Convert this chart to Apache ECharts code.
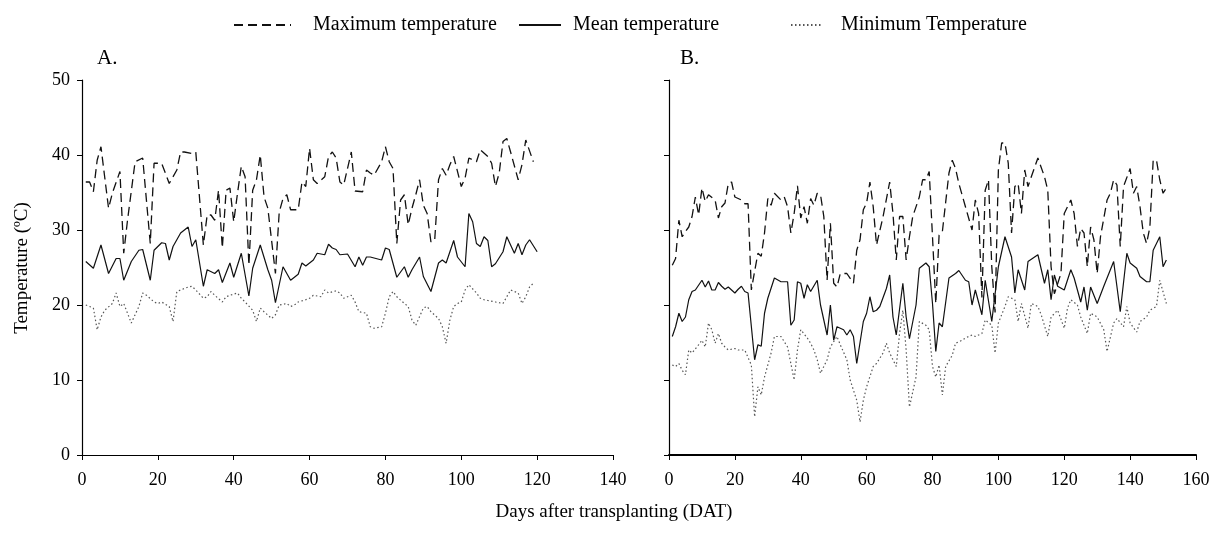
<!DOCTYPE html>
<html>
<head>
<meta charset="utf-8">
<script src="https://cdn.jsdelivr.net/npm/echarts@6/dist/echarts.min.js"></script>
<style>
html,body{margin:0;padding:0;background:#fff;}
#chart{width:1213px;height:540px;}
</style>
</head>
<body>
<div id="chart"></div>
<script>
// ---- Data: [day after transplanting, temperature °C] ----
const maxA = [[1,36.4],[2,36.4],[3,35.1],[4,39.3],[5,41.1],[6,37],[7,32.9],[8,34.9],[10,37.8],[11,26.9],[12,31.3],[14,39.1],[16,39.6],[18,28.2],[19,38.9],[21,38.9],[23,36.2],[25,38],[26,40.4],[27,40.4],[29,40.2],[30,40.4],[32,28],[33,32],[34,32],[35,31.3],[36,35.3],[37,27.6],[38,35.3],[39,35.6],[40,31.1],[41,34.9],[42,38.5],[43,37.1],[44,25.3],[45,35.3],[46,36.7],[47,40],[48,34.4],[49,32.9],[51,24.2],[52,32.4],[53,34.2],[54,34.7],[55,32.7],[57,32.7],[58,36.4],[59,35.8],[60,40.9],[61,36.7],[62,36.2],[64,37.1],[65,39.8],[66,40.4],[67,39.6],[68,36.4],[69,36],[71,40.4],[72,35.2],[74,35.1],[75,38],[76,37.6],[77,37.3],[79,39.1],[80,41.1],[81,39.1],[82,38.2],[83,28.2],[84,34],[85,34.7],[86,30.7],[87,32.9],[88,34.7],[89,36.7],[90,33.3],[91,32.2],[92,28.4],[93,28.7],[94,36.7],[95,38.2],[96,37.3],[97,38.7],[98,39.8],[100,35.8],[101,36.9],[102,39.6],[104,39.1],[105,40.7],[107,39.8],[108,38.9],[109,35.8],[110,37.6],[111,41.8],[112,42.2],[113,40.4],[115,36.7],[116,38.7],[117,42],[119,39.1]];
const meanA = [[1,25.8],[3,24.9],[5,28],[7,24.2],[9,26.2],[10,26.2],[11,23.3],[13,25.8],[15,27.3],[16,27.4],[18,23.3],[19,27.3],[21,28.3],[22,28.2],[23,26],[24,27.8],[26,29.6],[28,30.4],[29,27.8],[30,28.7],[32,22.5],[33,24.7],[35,24.2],[36,24.7],[37,23],[39,25.6],[40,23.7],[42,26.9],[44,21.2],[45,24.9],[47,28],[49,24.7],[50,23.3],[51,20.3],[53,25.1],[55,23.3],[57,24.1],[58,25.6],[59,25.2],[61,26],[62,26.9],[64,26.7],[65,28.1],[66,27.6],[67,27.4],[68,26.7],[70,26.8],[72,25.1],[73,26.4],[74,25.3],[75,26.4],[76,26.4],[79,26],[80,27.6],[81,27.4],[83,23.7],[85,25.1],[86,23.7],[87,24.7],[89,26.4],[90,23.8],[92,21.8],[94,25.6],[95,26],[96,25.6],[98,28.6],[99,26.4],[101,25.1],[102,32.2],[103,31.1],[104,28.2],[105,27.8],[106,29.1],[107,28.6],[108,25.1],[109,25.5],[111,27.1],[112,29.1],[114,26.9],[115,28.2],[116,26.7],[117,28],[118,28.7],[120,27.1]];
const minA = [[1,20],[3,19.6],[4,16.7],[5,18.4],[6,19.3],[8,20.2],[9,21.6],[10,19.8],[11,20.2],[12,18.9],[13,17.6],[15,19.8],[16,21.6],[17,21.3],[19,20.4],[20,20.2],[21,20.4],[23,19.8],[24,17.8],[25,21.8],[26,22],[28,22.4],[29,22.5],[30,22],[32,20.9],[33,21.1],[34,21.8],[35,21.3],[37,20.4],[38,21.1],[39,21.3],[41,21.6],[42,20.9],[43,20.4],[45,19.3],[46,17.8],[47,19.6],[48,19.1],[50,18.2],[51,18.7],[52,20],[54,20.2],[55,19.8],[56,20],[57,20.4],[59,20.7],[60,20.9],[61,21.3],[63,21.1],[64,22],[65,21.6],[67,21.9],[68,21.6],[69,20.9],[71,21.3],[72,20.4],[73,19.1],[75,18.9],[76,17.1],[77,16.9],[79,17.1],[80,18.9],[81,21.1],[82,21.8],[83,21.1],[85,20.2],[86,19.8],[87,18],[88,17.3],[90,19.6],[91,19.8],[92,19.1],[94,18.2],[95,17.1],[96,14.9],[97,18],[98,19.8],[99,20.2],[100,20.4],[101,22],[102,22.7],[104,21.6],[105,20.9],[106,20.7],[107,20.6],[109,20.4],[111,20.2],[112,21.1],[113,22],[115,21.6],[116,20.2],[117,21.1],[118,22.4],[119,22.9]];

const maxB = [[1,25.3],[2,26.2],[3,31.3],[4,29.1],[5,29.8],[6,30.4],[7,31.8],[8,34.4],[9,32],[10,35.6],[11,33.8],[12,34.7],[14,34],[15,31.6],[16,33.1],[17,33.6],[18,36.2],[19,36.4],[20,34.4],[22,34],[23,33.5],[24,33.5],[25,22],[26,24.5],[27,26.9],[28,26.5],[29,29.6],[30,34.2],[31,33.3],[32,34.9],[34,34],[35,34.4],[36,33.1],[37,29.6],[38,32.2],[39,35.9],[40,31.6],[41,33.1],[42,30.9],[43,34.2],[44,33.3],[45,34.9],[46,34.7],[47,31.8],[48,23.3],[49,30.9],[50,22.9],[51,22.4],[52,24.2],[53,24.2],[54,24.2],[56,22.9],[57,27.3],[58,28.7],[59,32.7],[60,33.6],[61,36.4],[62,33.1],[63,28],[65,31.8],[67,36.4],[68,32.2],[69,26],[70,31.8],[71,31.8],[72,26],[73,29.1],[74,31.8],[76,34.4],[77,36.7],[78,36.7],[79,37.8],[80,29.1],[81,20.2],[82,29.3],[83,29.8],[85,37.6],[86,39.3],[87,38.2],[88,36.2],[90,33.1],[92,30],[93,34],[94,32.2],[95,21],[96,35.3],[97,36.7],[98,25.1],[99,19],[100,38],[101,41.6],[102,41.6],[103,38.9],[104,29.6],[105,35.8],[106,36.2],[107,32.2],[108,38],[109,35.8],[110,37.1],[112,39.6],[114,37.1],[115,35.3],[116,25.1],[117,21.5],[119,24.2],[120,32.2],[122,34],[123,32.2],[124,27.8],[125,30.2],[126,29.6],[127,25.1],[128,30.4],[129,28.7],[130,24.2],[131,29.1],[133,34],[134,34.9],[135,36.7],[136,36],[137,27.8],[138,35.8],[140,38.2],[141,34.9],[142,35.8],[143,33.1],[144,29.6],[145,28.2],[146,30.4],[147,39.3],[148,39.3],[149,36.7],[150,34.9],[151,35.6]];
const meanB = [[1,15.8],[2,17.1],[3,18.9],[4,17.8],[5,18.4],[6,20.7],[7,21.8],[8,22],[10,23.3],[11,22.4],[12,23.2],[13,22],[14,22],[15,23],[16,22.5],[17,22.1],[18,22.4],[20,21.6],[21,22.1],[22,22.5],[23,21.8],[24,21.6],[26,12.7],[27,14.7],[28,14.5],[29,18.9],[30,20.9],[32,23.6],[34,23.1],[36,23.1],[37,17.3],[38,18],[39,23.1],[40,22.9],[41,20.9],[42,22.7],[43,21.8],[45,23.3],[46,20],[48,16],[49,20],[50,15.3],[51,17.1],[53,16.7],[54,16],[55,16.7],[56,15.8],[57,12.2],[59,17.8],[60,18.9],[61,21.1],[62,19.1],[63,19.3],[64,19.8],[66,22.2],[67,24],[68,18.4],[69,16],[71,22.9],[72,18.4],[73,15.5],[75,20],[76,24.9],[78,25.6],[79,25.1],[80,20.2],[81,13.8],[82,17.6],[83,17.1],[85,23.6],[87,24.2],[88,24.6],[90,23.3],[91,23.1],[92,20],[93,22],[95,18.7],[96,23.3],[98,17.8],[100,25.1],[102,29.1],[104,26.4],[105,21.6],[106,24.7],[108,22],[109,25.8],[112,26.7],[114,22.9],[115,24.7],[116,20.7],[117,24],[118,22.5],[120,22],[122,24.7],[123,23.6],[125,20.4],[126,22.4],[127,19.3],[128,22.4],[130,20.2],[132,22.5],[135,25.8],[137,19.1],[139,26.9],[140,25.6],[142,24.9],[143,23.8],[145,23.1],[146,23.1],[147,27.3],[149,29.1],[150,25.1],[151,26]];
const minB = [[1,12],[2,11.8],[3,12.2],[4,11.3],[5,10.7],[6,14],[7,13.6],[9,14.7],[10,15.3],[11,14.4],[12,17.6],[13,16.7],[14,14.9],[15,16.2],[16,14.9],[17,14.4],[18,14],[20,14.2],[21,14],[23,14],[25,12],[26,5.1],[27,9.1],[28,8],[29,10.4],[31,13.6],[32,15.8],[34,15.8],[36,14.4],[37,12.2],[38,10],[39,14],[40,16.7],[42,15.6],[43,14.9],[44,14],[45,12.7],[46,10.9],[48,12.7],[49,14.4],[51,15.8],[52,14.7],[54,12.7],[55,10],[57,7.3],[58,4.4],[59,7.3],[60,9.1],[62,11.8],[63,12.2],[65,13.6],[66,14.9],[67,13.6],[69,11.8],[70,16.2],[71,19.3],[72,14],[73,6.4],[75,10.4],[76,17.8],[78,17.3],[79,16.7],[80,11.8],[81,10.4],[82,12],[83,8],[84,11.8],[86,13.3],[87,14.9],[89,15.3],[90,15.6],[92,16],[93,15.8],[95,16.2],[96,18],[98,17.3],[99,13.6],[100,17.6],[102,19.8],[103,21.1],[105,20.7],[106,17.8],[107,20.2],[109,16.9],[110,20.2],[112,19.8],[113,18.7],[115,15.8],[116,18.4],[118,19.3],[120,16.9],[121,19.6],[122,20.7],[124,20],[125,18.4],[127,16.2],[128,18.9],[130,18.4],[132,16.7],[133,13.8],[135,17.6],[136,18.2],[138,17.1],[139,19.8],[140,17.6],[142,16.4],[143,17.8],[145,18.4],[146,19.3],[148,19.8],[149,23.3],[151,20.2]];

const seriesNames = ['Maximum temperature', 'Mean temperature', 'Minimum Temperature'];
const yTicks = [0, 10, 20, 30, 40, 50];
const xMaxA = 140, xMaxB = 160;

// ---- Styles ----
const FONT = 'Liberation Serif';
const styles = {
  'Maximum temperature': {color:'#111', width:1.3, type:[9,5]},
  'Mean temperature': {color:'#111', width:1.2, type:'solid'},
  'Minimum Temperature': {color:'#555', width:1.2, type:[1.5,2.5]}
};

function mk(name, data, gi) {
  return {
    name: name, type: 'line', xAxisIndex: gi, yAxisIndex: gi,
    data: data, symbol: 'none', showSymbol: false, smooth: false,
    lineStyle: styles[name], itemStyle: {color: styles[name].color},
    emphasis: {disabled: true}, animation: false
  };
}

function xAx(gi, max) {
  return {
    gridIndex: gi, type: 'value', min: 0, max: max, interval: 20,
    axisLine: {show: true, onZero: false, lineStyle: {color: '#000', width: gi === 1 ? 2 : 1.2}},
    axisTick: {show: true, length: 5, lineStyle: {color: '#000'}},
    axisLabel: {color: '#000', fontFamily: FONT, fontSize: 18, margin: 16},
    splitLine: {show: false}
  };
}
function yAx(gi, showLabel) {
  return {
    gridIndex: gi, type: 'value', min: yTicks[0], max: yTicks[yTicks.length-1], interval: 10,
    axisLine: {show: true, lineStyle: {color: '#000', width: 1.2}},
    axisTick: {show: true, length: 5, lineStyle: {color: '#000'}},
    axisLabel: {show: showLabel, color: '#000', fontFamily: FONT, fontSize: 18, margin: 12},
    splitLine: {show: false}
  };
}

const legendText = {fontFamily: FONT, fontSize: 20, color: '#000'};
function lg(left, name, w, pad) {
  return {
    left: left, top: 10, data: [name], itemWidth: w, itemHeight: 10,
    itemStyle: {opacity: 0},
    textStyle: Object.assign({padding: [0, 0, 0, pad]}, legendText),
    selectedMode: false
  };
}
const chart = echarts.init(document.getElementById('chart'), null, {renderer: 'canvas'});
chart.setOption({
  backgroundColor: '#fff',
  animation: false,
  legend: [
    lg(228, seriesNames[0], 57, 17),
    lg(513, seriesNames[1], 42, 7),
    lg(785, seriesNames[2], 32, 13)
  ],
  grid: [
    {left: 82, top: 80, width: 531, height: 375},
    {left: 669, top: 80, width: 527, height: 375}
  ],
  xAxis: [xAx(0, xMaxA), xAx(1, xMaxB)],
  yAxis: [yAx(0, true), yAx(1, false)],
  graphic: [
    {type: 'text', left: 97, top: 48, style: {text: 'A.', font: '21px "Liberation Serif"', fill: '#000'}},
    {type: 'text', left: 680, top: 48, style: {text: 'B.', font: '21px "Liberation Serif"', fill: '#000'}},
    {type: 'text', x: 22, y: 268, rotation: Math.PI/2, style: {text: 'Temperature (\u00BAC)', font: '19px "Liberation Serif"', fill: '#000', align: 'center', verticalAlign: 'middle'}},
    {type: 'text', x: 614, y: 512, style: {text: 'Days after transplanting (DAT)', font: '19px "Liberation Serif"', fill: '#000', align: 'center', verticalAlign: 'middle'}}
  ],
  series: [
    mk(seriesNames[0], maxA, 0), mk(seriesNames[1], meanA, 0), mk(seriesNames[2], minA, 0),
    mk(seriesNames[0], maxB, 1), mk(seriesNames[1], meanB, 1), mk(seriesNames[2], minB, 1)
  ]
});
</script>
</body>
</html>
